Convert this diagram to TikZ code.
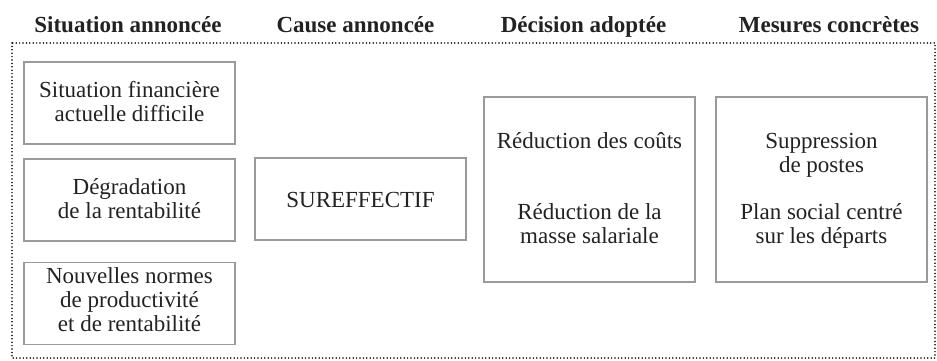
\documentclass[tikz,border=0pt]{standalone}
\usepackage{fontspec}
\setmainfont{Liberation Serif}
\definecolor{boxgray}{HTML}{9A9A9A}
\definecolor{txt}{HTML}{222222}
\begin{document}
\begin{tikzpicture}[x=1pt,y=-1pt,
  hdr/.style={anchor=base,font=\fontsize{23}{27}\selectfont\bfseries,text=txt,inner sep=0pt},
  ln/.style={anchor=base,font=\fontsize{23}{27}\selectfont,text=txt,inner sep=0pt},
  box/.style={draw=boxgray,line width=1.1pt,minimum width=211pt,inner sep=0pt},
  frame/.style={draw=black,line width=1.7pt,dash pattern=on 0pt off 3.4pt,line cap=round}]
\useasboundingbox (0,0) rectangle (937,360);
% frame
\draw[frame] (12,43) rectangle (935,358);
% headers
\node[hdr] (h1) at (128,32) {Situation annoncée};
\node[hdr] (h2) at (355.5,32) {Cause annoncée};
\node[hdr] (h3) at (583.5,32) {Décision adoptée};
\node[hdr] (h4) at (829,32) {Mesures concrètes};
% boxes
\node[box,minimum height=82pt] (b1) at (129.5,103) {};
\node[box,minimum height=82pt] (b2) at (129.5,200) {};
\node[box,minimum height=82pt] (b3) at (129.5,303.5) {};
\node[box,minimum height=82pt] (b4) at (360.5,199) {};
\node[box,minimum height=185pt] (b5) at (589.5,189.5) {};
\node[box,minimum height=185pt] (b6) at (821.5,189.5) {};
% texts
\node[ln] (t11) at (129.5,97) {Situation financière};
\node[ln] (t12) at (129.5,121) {actuelle difficile};
\node[ln] (t21) at (129.5,194) {Dégradation};
\node[ln] (t22) at (129.5,218) {de la rentabilité};
\node[ln] (t31) at (129.5,283) {Nouvelles normes};
\node[ln] (t32) at (129.5,307) {de productivité};
\node[ln] (t33) at (129.5,331) {et de rentabilité};
\node[ln] (t41) at (360.5,207) {SUREFFECTIF};
\node[ln] (t51) at (589.5,148) {Réduction des coûts};
\node[ln] (t52) at (589.5,219) {Réduction de la};
\node[ln] (t53) at (589.5,243) {masse salariale};
\node[ln] (t61) at (821.5,148) {Suppression};
\node[ln] (t62) at (821.5,172) {de postes};
\node[ln] (t63) at (821.5,219) {Plan social centré};
\node[ln] (t64) at (821.5,243) {sur les départs};
\end{tikzpicture}
\end{document}
